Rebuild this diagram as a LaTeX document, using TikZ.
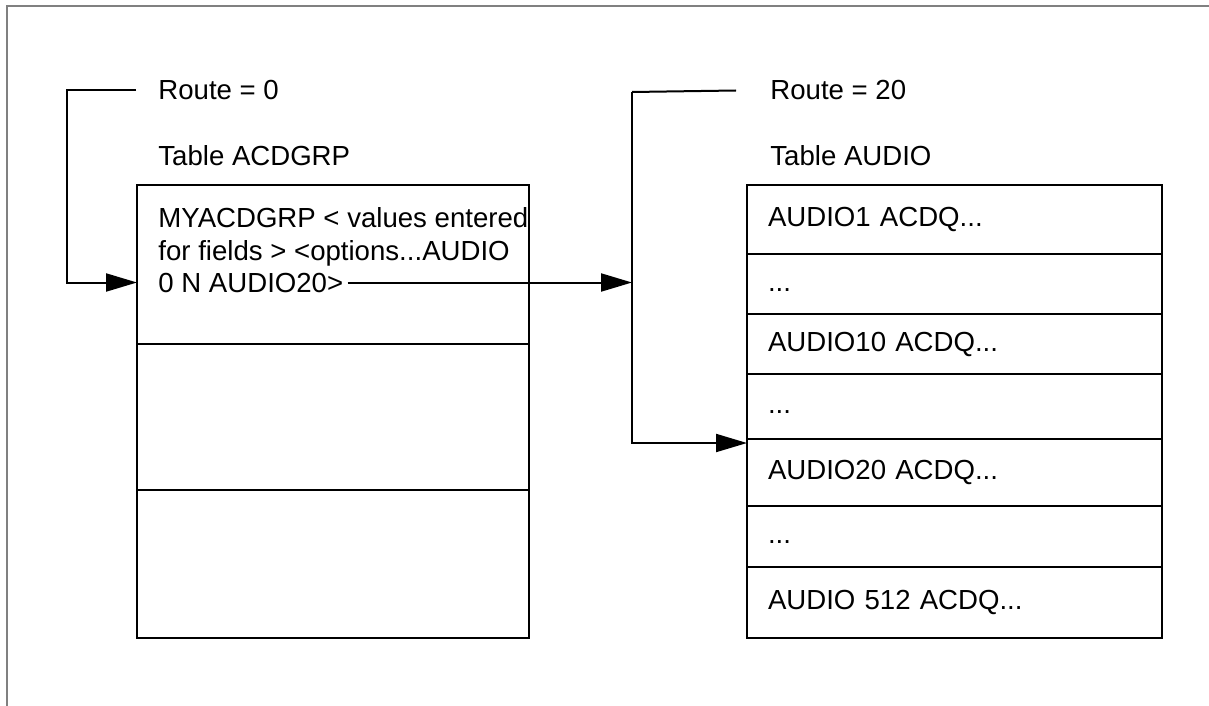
\documentclass[tikz,border=0pt]{standalone}
\usepackage{fontspec}
\setmainfont{Liberation Sans}
\usetikzlibrary{arrows.meta,positioning}
\tikzset{
  cell/.style={draw, line width=0.6pt, outer sep=0pt, inner xsep=10.5pt, inner ysep=0pt,
    align=left, text height=0.72em, text depth=0pt},
  gcell/.style={cell, text width=175pt},
  acell/.style={cell, text width=186.5pt},
  txt/.style={inner sep=0pt, anchor=base west},
  link/.style={line width=1pt},
  tip/.style={-{Triangle[length=15.5pt,width=9pt]}},
}
\begin{document}
\begin{tikzpicture}[x=0.5pt, y=-0.5pt, font=\fontsize{13.8}{16}\selectfont]
    \useasboundingbox (0,0) rectangle (1209,706);
    % frame
    \draw[gray, line width=1pt] (1209,6) -- (7,6) -- (7,706);

    % table ACDGRP
    \node[txt] (route0) at (158,100) {Route = 0};
    \node[txt] (tgrp) at (158,165) {Table ACDGRP};
    \node[gcell, minimum height=79.5pt, anchor=north west] (g1) at (137,185) {};
    \node[gcell, minimum height=73pt, below=0pt of g1] (g2) {};
    \node[gcell, minimum height=74pt, below=0pt of g2] (g3) {};
    \node[txt] (l1) at (158,227) {MYACDGRP < values entered};
    \node[txt] (l2) at (158,260) {for fields > <options...AUDIO};
    \node[txt] (l3) at (158,292) {0 N AUDIO20>};

    % table AUDIO
    \node[txt] (route20) at (770,100) {Route = 20};
    \node[txt] (taudio) at (770,165) {Table AUDIO};
    \node[acell, minimum height=34.5pt, anchor=north west] (a1) at (747,185) {AUDIO1 ACDQ...};
    \node[acell, minimum height=30pt, below=0pt of a1] (a2) {...};
    \node[acell, minimum height=30pt, below=0pt of a2] (a3) {AUDIO10 ACDQ...};
    \node[acell, minimum height=32.5pt, below=0pt of a3] (a4) {...};
    \node[acell, minimum height=33.5pt, below=0pt of a4] (a5) {AUDIO20 ACDQ...};
    \node[acell, minimum height=30.5pt, below=0pt of a5] (a6) {...};
    \node[acell, minimum height=35.5pt, below=0pt of a6] (a7) {AUDIO 512 ACDQ...};

    % connectors
    \coordinate (bend) at (632,92);
    \draw[link, tip] ([xshift=-11pt]route0.west) -- ++(-69,0) |- (l3 -| g1.west);
    \draw[link, tip] ([xshift=2pt]l3.east) -- (l3 -| bend);
    \draw[link] ([xshift=-17pt]route20.west) -- (bend);
    \draw[link, tip] (bend) |- ([yshift=-2pt]a5.north west);
\end{tikzpicture}
\end{document}
